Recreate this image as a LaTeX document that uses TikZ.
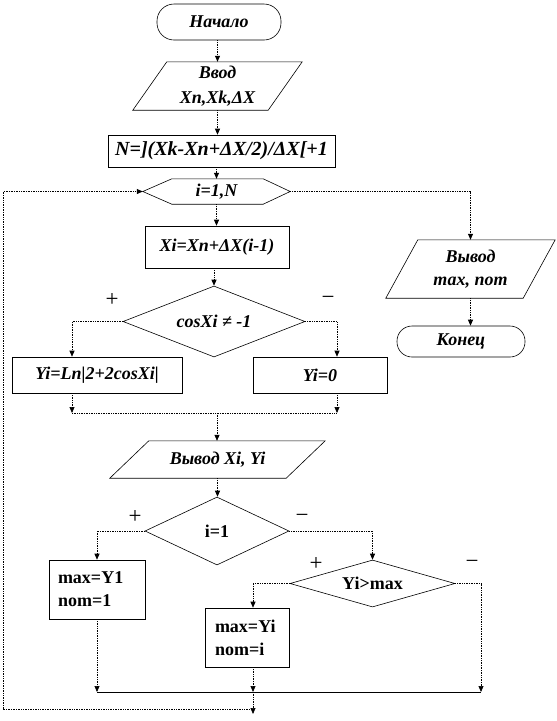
\documentclass[tikz,border=0pt]{standalone}
\usepackage{fontspec}
\setmainfont{Liberation Serif}
\usetikzlibrary{arrows.meta,calc,shapes.geometric}
\newcommand\drawpara[2]{\draw[shp] ($(#1.north west)+(#2/2,0)$) -- ($(#1.north east)+(#2/2,0)$) -- ($(#1.south east)-(#2/2,0)$) -- ($(#1.south west)-(#2/2,0)$) -- cycle;}
\begin{document}
\begin{tikzpicture}[x=1pt,y=-1pt,
  txt/.style={font=\fontsize{18}{23}\selectfont\bfseries\itshape},
  txtup/.style={font=\fontsize{18}{23}\selectfont\bfseries},
  shp/.style={draw=black, line width=0.6pt},
  term/.style={shp, rounded corners=17pt, minimum width=124pt, minimum height=36pt, inner sep=0pt, txt},
  box/.style={shp, rectangle, inner sep=0pt},
  dec/.style={shp, diamond, inner sep=0pt, aspect=2.5},
  hidden/.style={inner sep=0pt, align=center, txt},
  con/.style={line width=0.7pt, densely dotted, -{Triangle[width=5pt,length=6pt]}},
  conline/.style={line width=0.7pt, densely dotted},
  solidline/.style={line width=0.9pt},
  sign/.style={font=\fontsize{23}{24}\selectfont, inner sep=0pt}]
\useasboundingbox (0,0) rectangle (557,721);

% nodes
\node[term] (start) at (219,22) {Начало};
\node[hidden, minimum width=135pt, minimum height=48pt] (in) at (217.5,86) {Ввод\\[2pt]Xn,Xk,ΔX};
\drawpara{in}{34}
\node[box, minimum width=227pt, minimum height=32pt, font=\fontsize{20}{24}\selectfont\bfseries\itshape] (N) at (221.5,151) {N=](Xk-Xn+ΔX/2)/ΔX[+1};
\node[hidden, minimum width=147pt, minimum height=25pt] (cyc) at (216.5,191.5) {i=1,N};
\draw[shp] (cyc.west) -- ($(cyc.north west)+(29,0)$) -- ($(cyc.north east)+(-27,0)$) -- (cyc.east) -- ($(cyc.south east)+(-27,0)$) -- ($(cyc.south west)+(29,0)$) -- cycle;
\node[box, minimum width=144pt, minimum height=42pt, txt] (xi) at (217,247) {Xi=Xn+ΔX(i-1)};
\node[dec, minimum width=182pt, minimum height=71pt, txt] (d1) at (214,321.5) {cosXi ≠ -1};
\node[box, minimum width=170pt, minimum height=36pt, txt] (y1) at (97,375) {Yi=Ln|2+2cosXi|};
\node[box, minimum width=134pt, minimum height=36pt, txt] (y0) at (320,375) {Yi=0};
\node[hidden, minimum width=176pt, minimum height=37pt] (out1) at (217.5,459.5) {Вывод Xi, Yi};
\drawpara{out1}{39}
\node[dec, minimum width=144pt, minimum height=68pt, txtup] (d2) at (217,531) {i=1};
\node[box, minimum width=96pt, minimum height=59pt, txtup, align=left, text width=78pt] (b1) at (97,589.5) {max=Y1\\nom=1};
\node[dec, minimum width=165pt, minimum height=47pt, txtup] (d3) at (372.5,583.5) {Yi>max};
\node[box, minimum width=84pt, minimum height=59pt, txtup, align=left, text width=64pt] (b2) at (247,637.5) {max=Yi\\nom=i};
\node[hidden, minimum width=137pt, minimum height=58pt] (out2) at (470.5,269) {Вывод\\max, nom};
\drawpara{out2}{32}
\node[term, minimum width=128pt, minimum height=31pt, rounded corners=15pt] (end) at (461,341.5) {Конец};

% signs
\node[sign] (p1) at (112,300) {+};
\node[sign] (n1) at (328,300) {−};
\node[sign] (p2) at (135,517) {+};
\node[sign] (n2) at (302,518) {−};
\node[sign] (p3) at (316,564) {+};
\node[sign] (n3) at (472,564) {−};

% junction coordinates
\coordinate (j1) at (217,413);
\coordinate (j1L) at (72,413);
\coordinate (j1R) at (337,413);
\coordinate (j2) at (253,692);
\coordinate (j2L) at (97,692);
\coordinate (j2R) at (481,692);
\coordinate (j3) at (253,714);
\coordinate (lp) at (253,709);
\coordinate (c1) at (3,709);
\coordinate (c2) at (3,191.5);

% connectors
\draw[con] (start.south -| in.north) -- (in.north);
\draw[con] (in.south) -- (in.south |- N.north);
\draw[con] (N.south -| cyc.north) -- (cyc.north);
\draw[con] (cyc.south) -- (cyc.south |- xi.north);
\draw[con] (xi.south -| d1.north) -- (d1.north);
\draw[con] (d1.west) -| (j1L |- y1.north);
\draw[con] (d1.east) -| (j1R |- y0.north);
\draw[con] (j1L |- y1.south) -- (j1L);
\draw[con] (j1R |- y0.south) -- (j1R);
\draw[conline] (j1L) -- (j1R);
\draw[con] (j1) -- (j1 |- out1.north);
\draw[con] (out1.south) -- (out1.south |- d2.north);
\draw[con] (d2.west) -| (b1.north);
\draw[con] (d2.east) -| (d3.north);
\draw[con] (d3.west) -| (j2 |- b2.north);
\draw[con] (d3.east) -| (j2R);
\draw[con] (b1.south) -- (j2L);
\draw[con] (j2 |- b2.south) -- (j2);
\draw[solidline] (j2L) -- (j2R);
\draw[con] (j2) -- (j3);
\draw[con] (lp) -- (c1) -- (c2) -- (cyc.west);
\draw[con] (cyc.east) -| (out2.north);
\draw[con] (out2.south) -- (out2.south |- end.north);
\end{tikzpicture}
\end{document}
